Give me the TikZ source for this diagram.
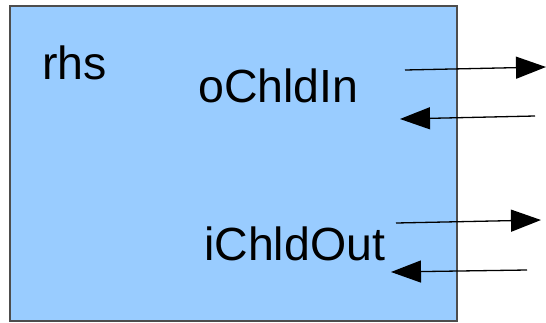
\documentclass[tikz,border=0pt]{standalone}
\usepackage{fontspec}
\setmainfont{Liberation Sans}
\usepackage{tikz}
\usetikzlibrary{arrows.meta}

\definecolor{boxblue}{HTML}{99CCFF}
\definecolor{boxline}{HTML}{4D4D4D}

\begin{document}
\begin{tikzpicture}[x=1pt,y=-1pt]
        \useasboundingbox (0,0) rectangle (546,322);
        \fill[boxblue,draw=boxline,line width=1.5pt] (10,6) rectangle (457,321);
        \node[anchor=base west,inner sep=0pt,font=\fontsize{46.5}{50}\selectfont] (rhs) at (42,79) {rhs};
        \node[anchor=base west,inner sep=0pt,font=\fontsize{46.5}{50}\selectfont] (in) at (198,102) {oChldIn};
        \node[anchor=base west,inner sep=0pt,font=\fontsize{46.5}{50}\selectfont] (out) at (204,260) {iChldOut};
        \coordinate (a1) at (405,70);  \coordinate (b1) at (546,67);
        \coordinate (a2) at (535,116); \coordinate (b2) at (400,119);
        \coordinate (a3) at (396,223); \coordinate (b3) at (541,220);
        \coordinate (a4) at (527,270); \coordinate (b4) at (391,272);
        \draw[-{Triangle[length=30pt,width=22pt]},line width=1.3pt] (a1)--(b1);
        \draw[-{Triangle[length=30pt,width=22pt]},line width=1.3pt] (a2)--(b2);
        \draw[-{Triangle[length=30pt,width=22pt]},line width=1.3pt] (a3)--(b3);
        \draw[-{Triangle[length=30pt,width=22pt]},line width=1.3pt] (a4)--(b4);
      \end{tikzpicture}
\end{document}
